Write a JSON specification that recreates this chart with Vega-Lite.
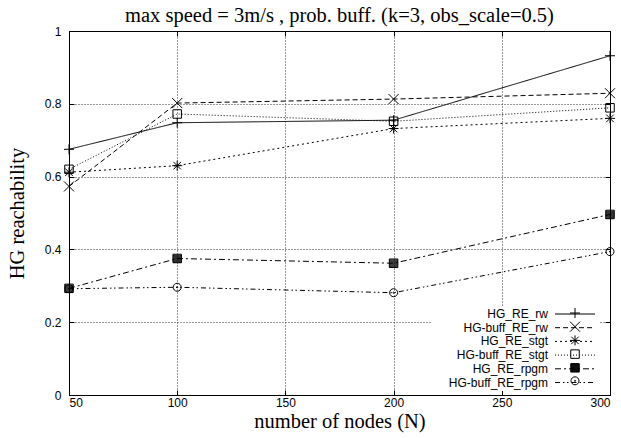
{
  "$schema": "https://vega.github.io/schema/vega-lite/v6.json",
  "width": 541,
  "height": 364,
  "autosize": {"type": "none"},
  "padding": {"left": 69, "top": 31, "right": 11, "bottom": 43},
  "background": "white",
  "title": {
    "text": "max speed = 3m/s , prob. buff. (k=3, obs_scale=0.5)",
    "font": "Liberation Serif",
    "fontSize": 20.5,
    "fontWeight": "normal",
    "color": "black",
    "anchor": "middle",
    "frame": "group",
    "baseline": "bottom",
    "offset": -21
  },
  "config": {
    "view": {"stroke": "black", "strokeWidth": 1},
    "axis": {
      "labelFont": "Liberation Sans",
      "labelFontSize": 12,
      "labelColor": "black",
      "titleFont": "Liberation Serif",
      "titleFontSize": 20.5,
      "titleFontWeight": "normal",
      "titleColor": "black",
      "domain": false,
      "tickColor": "black",
      "tickSize": -5,
      "tickWidth": 1,
      "gridColor": "black",
      "gridDash": [1, 2],
      "gridOpacity": 0.8,
      "gridWidth": 1
    }
  },
  "data": {
    "values": [
      {"series": "HG_RE_rw", "N": 50, "value": 0.675},
      {"series": "HG_RE_rw", "N": 100, "value": 0.748},
      {"series": "HG_RE_rw", "N": 200, "value": 0.755},
      {"series": "HG_RE_rw", "N": 300, "value": 0.932},
      {"series": "HG-buff_RE_rw", "N": 50, "value": 0.573},
      {"series": "HG-buff_RE_rw", "N": 100, "value": 0.802},
      {"series": "HG-buff_RE_rw", "N": 200, "value": 0.813},
      {"series": "HG-buff_RE_rw", "N": 300, "value": 0.829},
      {"series": "HG_RE_stgt", "N": 50, "value": 0.612},
      {"series": "HG_RE_stgt", "N": 100, "value": 0.63},
      {"series": "HG_RE_stgt", "N": 200, "value": 0.732},
      {"series": "HG_RE_stgt", "N": 300, "value": 0.76},
      {"series": "HG-buff_RE_stgt", "N": 50, "value": 0.62},
      {"series": "HG-buff_RE_stgt", "N": 100, "value": 0.772},
      {"series": "HG-buff_RE_stgt", "N": 200, "value": 0.752},
      {"series": "HG-buff_RE_stgt", "N": 300, "value": 0.789},
      {"series": "HG_RE_rpgm", "N": 50, "value": 0.293},
      {"series": "HG_RE_rpgm", "N": 100, "value": 0.375},
      {"series": "HG_RE_rpgm", "N": 200, "value": 0.362},
      {"series": "HG_RE_rpgm", "N": 300, "value": 0.496},
      {"series": "HG-buff_RE_rpgm", "N": 50, "value": 0.292},
      {"series": "HG-buff_RE_rpgm", "N": 100, "value": 0.296},
      {"series": "HG-buff_RE_rpgm", "N": 200, "value": 0.281},
      {"series": "HG-buff_RE_rpgm", "N": 300, "value": 0.394}
    ]
  },
  "layer": [
    {
      "mark": {"type": "line", "color": "black", "strokeWidth": 1},
      "encoding": {
        "x": {
          "field": "N", "type": "quantitative",
          "scale": {"domain": [50, 300], "nice": false, "zero": false},
          "axis": {"orient": "top", "values": [50, 100, 150, 200, 250, 300], "labels": false, "grid": false, "title": null, "minExtent": 0, "maxExtent": 0}
        },
        "y": {
          "field": "value", "type": "quantitative",
          "scale": {"domain": [0, 1], "nice": false, "zero": false},
          "axis": {"orient": "right", "values": [0, 0.2, 0.4, 0.6, 0.8, 1], "labels": false, "grid": false, "title": null, "minExtent": 0, "maxExtent": 0}
        },
        "strokeDash": {
          "field": "series", "type": "nominal",
          "scale": {
            "domain": ["HG_RE_rw", "HG-buff_RE_rw", "HG_RE_stgt", "HG-buff_RE_stgt", "HG_RE_rpgm", "HG-buff_RE_rpgm"],
            "range": [[1, 0], [5, 3], [2, 3], [1, 2], [6, 3, 2, 3], [5, 3, 1.5, 2.5, 1.5, 3]]
          },
          "legend": {
            "orient": "none",
            "legendX": 363,
            "legendY": 275,
            "title": null,
            "symbolType": "M-4,0H4",
            "symbolSize": 100,
            "symbolStrokeWidth": 1,
            "symbolStrokeColor": "black",
            "symbolFillColor": "transparent",
            "rowPadding": 1.7,
            "padding": 2,
            "symbolOffset": 135,
            "labelAlign": "right",
            "labelOffset": -33,
            "labelFont": "Liberation Sans",
            "labelFontSize": 12,
            "labelColor": "black",
            "labelLimit": 400,
            "fillColor": "white",
            "strokeColor": null,
            "zindex": 1
          }
        }
      }
    },
    {
      "mark": {"type": "point", "filled": false, "size": 100, "strokeWidth": 1, "opacity": 1, "color": "black"},
      "encoding": {
        "x": {
          "field": "N", "type": "quantitative",
          "scale": {"domain": [50, 300], "nice": false, "zero": false},
          "axis": {"orient": "bottom", "values": [50, 100, 150, 200, 250, 300], "labelPadding": 7, "grid": true, "title": "number of nodes (N)", "titlePadding": 3}
        },
        "y": {
          "field": "value", "type": "quantitative",
          "scale": {"domain": [0, 1], "nice": false, "zero": false},
          "axis": {"orient": "left", "values": [0, 0.2, 0.4, 0.6, 0.8, 1], "format": "~g", "labelPadding": 13, "grid": true, "title": "HG reachability", "titlePadding": 17}
        },
        "shape": {
          "field": "series", "type": "nominal",
          "scale": {
            "domain": ["HG_RE_rw", "HG-buff_RE_rw", "HG_RE_stgt", "HG-buff_RE_stgt", "HG_RE_rpgm", "HG-buff_RE_rpgm"],
            "range": [
              "M-1,0H1M0,-1V1",
              "M-1,-1L1,1M-1,1L1,-1",
              "M-1,0H1M0,-1V1M-0.75,-0.75L0.75,0.75M-0.75,0.75L0.75,-0.75",
              "M-0.85,-0.85H0.85V0.85H-0.85Z",
              "M-0.85,-0.85H0.85V0.85H-0.85ZM-0.85,-0.65H0.85M-0.85,-0.45H0.85M-0.85,-0.25H0.85M-0.85,-0.05H0.85M-0.85,0.15H0.85M-0.85,0.35H0.85M-0.85,0.55H0.85M-0.85,0.75H0.85",
              "M0.8,0A0.8,0.8 0 1,1 -0.8,0A0.8,0.8 0 1,1 0.8,0ZM0.12,0A0.12,0.12 0 1,1 -0.12,0A0.12,0.12 0 1,1 0.12,0Z"
            ]
          },
          "legend": {
            "orient": "none",
            "legendX": 363,
            "legendY": 274,
            "title": null,
            "symbolSize": 100,
            "symbolStrokeWidth": 1,
            "symbolStrokeColor": "black",
            "symbolFillColor": "transparent",
            "rowPadding": -0.3,
            "padding": 2,
            "symbolOffset": 135,
            "labelExpr": "''",
            "labelFontSize": 12,
            "zindex": 2
          }
        }
      }
    }
  ],
  "resolve": {
    "axis": {"x": "independent", "y": "independent"},
    "legend": {"strokeDash": "independent", "shape": "independent"}
  }
}
